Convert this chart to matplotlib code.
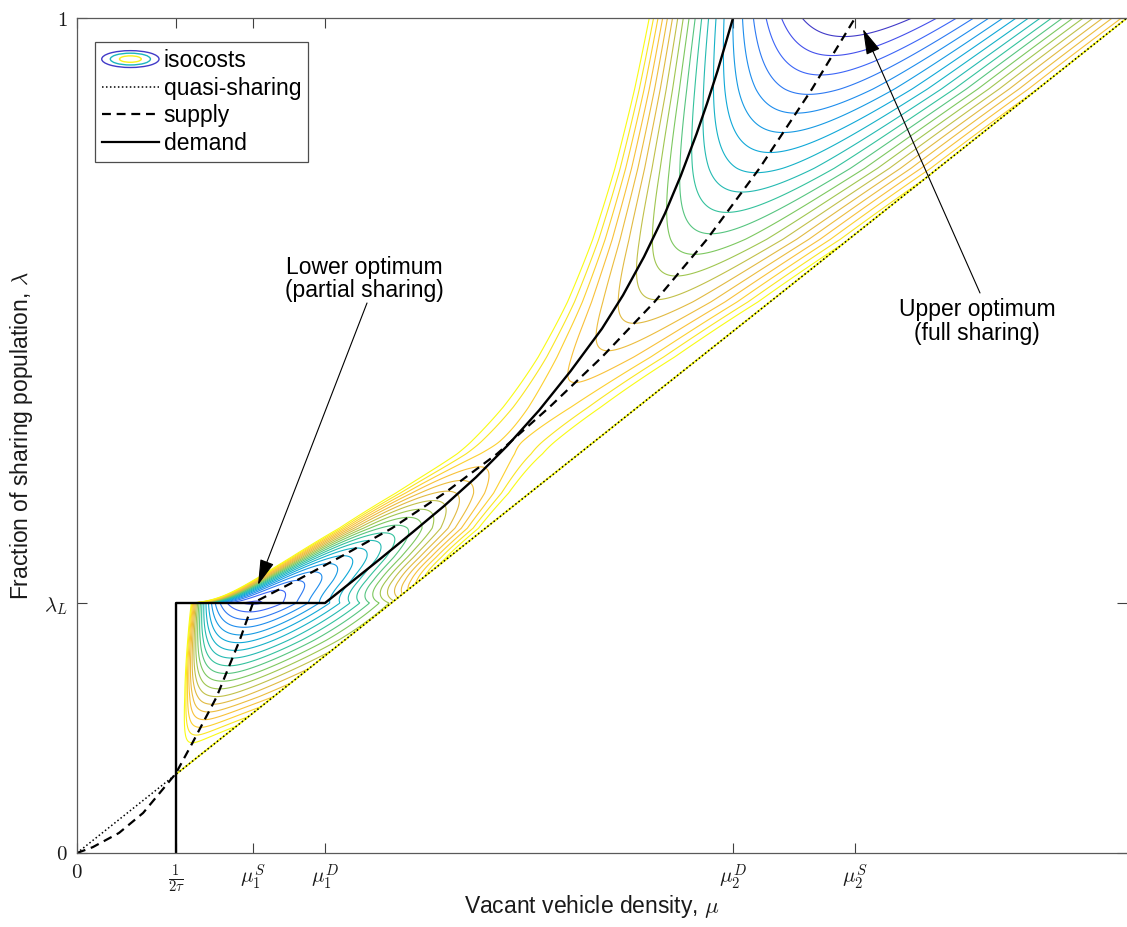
"""
Isocosts of the sharing model with supply / demand curves.
mu (x) is normalised by the largest density shown on the axis.
"""

import numpy as np
import matplotlib.pyplot as plt
from matplotlib.colors import LinearSegmentedColormap
from matplotlib.legend_handler import HandlerBase
from matplotlib.lines import Line2D
from matplotlib.patches import Ellipse

plt.rcParams["font.family"] = ["Liberation Sans", "DejaVu Sans"]
plt.rcParams["mathtext.fontset"] = "cm"

# key values
x0 = 0.0943          # 1/(2 tau)
mu1_S, mu1_D = 0.1676, 0.2362
mu2_D, mu2_S = 0.6248, 0.741
lam_L = 0.2994

xtick_vals = [0, x0, mu1_S, mu1_D, mu2_D, mu2_S]
xtick_labels = ["$0$", r"$\frac{1}{2\tau}$", r"$\mu_1^S$", r"$\mu_1^D$",
                r"$\mu_2^D$", r"$\mu_2^S$"]
ytick_vals = [0, lam_L, 1]
ytick_labels = ["$0$", r"$\lambda_L$", "$1$"]

# supply curve
supply_mu = [0.0, 0.015, 0.040, 0.063, 0.094, 0.110, 0.133, 0.155, 0.1676,
             0.210, 0.250, 0.300, 0.350, 0.400, 0.450, 0.500, 0.550, 0.600,
             0.650, 0.700, 0.741]
supply_lam = [0.0, 0.007, 0.024, 0.048, 0.095, 0.132, 0.187, 0.255, 0.2994,
              0.327, 0.354, 0.389, 0.431, 0.478, 0.534, 0.594, 0.660, 0.735,
              0.820, 0.915, 1.0]

# demand curve (vertical, then flat at lambda_L, then rising branch)
demand_mu = [0.0943, 0.0943, 0.2362, 0.260, 0.290, 0.320, 0.350, 0.380,
             0.410, 0.440, 0.470, 0.500, 0.520, 0.540, 0.560, 0.575, 0.590,
             0.600, 0.610, 0.6175, 0.6248]
demand_lam = [0.0, 0.2994, 0.2994, 0.3232, 0.3535, 0.3845, 0.416, 0.450,
              0.488, 0.530, 0.577, 0.628, 0.668, 0.714, 0.766, 0.811,
              0.861, 0.8975, 0.9365, 0.9685, 1.0]

# quasi-sharing line
quasi_mu = [0.0, 1.0]
quasi_lam = [0.0, 1.0]

# parula-like colours
parula = LinearSegmentedColormap.from_list("parula", [
    (0.00, (0.242, 0.150, 0.660)),
    (0.12, (0.270, 0.350, 0.980)),
    (0.25, (0.120, 0.550, 0.930)),
    (0.37, (0.050, 0.680, 0.830)),
    (0.50, (0.200, 0.760, 0.620)),
    (0.62, (0.550, 0.790, 0.330)),
    (0.75, (0.880, 0.730, 0.260)),
    (0.87, (0.990, 0.760, 0.220)),
    (1.00, (0.976, 0.984, 0.080)),
])


def shape_terms(lf, us, a_L=0.045, a_R=0.07, K=2.3, w1=0.27, w2=0.15,
                k_low=9.0):
    decay = np.where(lf < lam_L, np.exp(k_low * (lf - lam_L)), 1.0)
    al = a_L * decay
    ar = a_R * decay
    dl = np.clip(lf - lam_L, 0, None)
    k_left = us * (1 - a_L) * np.tanh(K * dl / us)
    k_right = us * (1 - a_R) * (1 - np.exp(-dl / w1 - (dl / w2) ** 2))
    return al, ar, k_left, k_right


def g_cost(u, us, al, ar, kl, kr):
    # zero on the supply curve, grows away from it in mu
    left = u < us
    alp = np.where(left, al, ar)
    kap = np.where(left, kl, kr)
    return alp * (np.log(u) - np.log(us)) ** 2 + kap * (u - us) ** 2 / (u * us ** 2)


def cost_field(mu, lam, gap=0.012, c_span=0.13, lam_b=0.132):
    lf = np.linspace(0, 1, 4001)
    us = np.clip(np.interp(lf, supply_lam, supply_mu) - x0, 1e-6, None)
    ud = np.clip(np.interp(lf, demand_lam[2:], demand_mu[2:]) - x0, 1e-6, None)
    terms = shape_terms(lf, us)

    # above the saddle: beta' = -dG/dlam on the demand curve
    i = np.arange(1, len(lf) - 1)
    gp = g_cost(ud[i], us[i + 1], *[q[i + 1] for q in terms])
    gm = g_cost(ud[i], us[i - 1], *[q[i - 1] for q in terms])
    dG = (gp - gm) / (lf[i + 1] - lf[i - 1])
    db = np.concatenate([[-dG[0]], -dG, [-dG[-1]]])

    diff = ud - us
    i_s = np.where((lf > 0.4) & (diff <= 0))[0][0]
    lam_s = lf[i_s]
    tail = np.concatenate([[0], np.cumsum(0.5 * (db[i_s:][1:] + db[i_s:][:-1])
                                          * np.diff(lf[i_s:]))])
    beta = np.zeros_like(lf)
    drop = -tail[-1]
    beta[i_s:] = drop + tail          # beta(1) = 0

    # rising branch between lambda_L and the saddle
    H = drop - gap
    mid = (lf >= lam_L) & (lf < lam_s)
    t = (lf[mid] - lam_L) / (lam_s - lam_L)
    a0 = 0.8
    beta[mid] = gap + H * (a0 * t + (3 - 2 * a0) * t ** 2 + (a0 - 2) * t ** 3)

    low = lf < lam_L
    beta[low] = gap + (c_span - gap) * (lam_L - lf[low]) / (lam_L - lam_b)

    M, L = np.meshgrid(mu, lam)
    U = M - x0
    S = np.interp(lam, lf, us)[:, None]
    T = [np.interp(lam, lf, q)[:, None] for q in terms]
    B = np.interp(lam, lf, beta)[:, None]
    C = g_cost(U, S, *T) + B
    C[(M > L) | (L < 0.1)] = np.nan
    return M, L, C, 0.0, c_span


class Isocosts:
    pass


class HandlerIsocosts(HandlerBase):
    def create_artists(self, legend, orig_handle, xdescent, ydescent,
                       width, height, fontsize, trans):
        cx = 0.5 * width - xdescent
        cy = 0.5 * height - ydescent
        out = []
        for f, v in zip([1.0, 0.7, 0.38], [0.05, 0.42, 0.98]):
            e = Ellipse((cx, cy), width * f, height * 1.05 * f, fill=False,
                        edgecolor=parula(v), lw=1.0, transform=trans)
            out.append(e)
        return out


if __name__ == "__main__":

    mu = np.linspace(x0 + 1e-4, 1, 1500)
    lam = np.linspace(0, 1, 1500)
    M, L, C, cmin, cmax = cost_field(mu, lam)
    levels = np.linspace(cmin, cmax, 21)[1:]

    fig = plt.figure(figsize=(11.27, 9.27), dpi=100)
    ax = fig.add_axes([77 / 1127, 74 / 927, 1050 / 1127, 835 / 927])

    ax.contour(M, L, C, levels=levels, cmap=parula, vmin=cmin, vmax=cmax,
               linewidths=0.8)

    # outer isocost hugging the quasi-sharing line
    ax.plot([x0, 1], [x0, 1], color=parula(1.0), lw=1.3)
    ax.plot(quasi_mu, quasi_lam, color="k", lw=1.1, ls=(0, (1, 1.6)))
    ax.plot(supply_mu, supply_lam, color="k", lw=1.6, ls=(0, (4, 2.6)))
    ax.plot(demand_mu, demand_lam, color="k", lw=1.7)

    ax.annotate("", xy=(0.1724, 0.321), xytext=(0.2762, 0.6587),
                arrowprops=dict(arrowstyle="-|>,head_length=1.6,head_width=0.45",
                                color="k", lw=0.8, mutation_scale=10,
                                shrinkA=0, shrinkB=0))
    ax.text(0.2733, 0.6874, "Lower optimum\n(partial sharing)", ha="center",
            va="center", fontsize=16.5, linespacing=1.05)
    ax.annotate("", xy=(0.7486, 0.9868), xytext=(0.860, 0.6707),
                arrowprops=dict(arrowstyle="-|>,head_length=1.6,head_width=0.45",
                                color="k", lw=0.8, mutation_scale=10,
                                shrinkA=0, shrinkB=0))
    ax.text(0.857, 0.637, "Upper optimum\n(full sharing)", ha="center",
            va="center", fontsize=16.5, linespacing=1.05)

    ax.set_xlim(0, 1)
    ax.set_ylim(0, 1)
    ax.set_xticks(xtick_vals)
    ax.set_xticklabels(xtick_labels, fontsize=15)
    ax.set_yticks(ytick_vals)
    ax.set_yticklabels(ytick_labels, fontsize=15)
    ax.tick_params(direction="in", length=7, width=0.8, top=True, right=True,
                   pad=7, colors="0.25", labelcolor="0.1")
    for side in ["left", "bottom", "top"]:
        ax.spines[side].set_color("0.35")
        ax.spines[side].set_linewidth(0.9)
    ax.spines["right"].set_visible(False)

    ax.set_xlabel(r"Vacant vehicle density, $\mu$", fontsize=16.5, color="0.1")
    ax.xaxis.set_label_coords(0.49, -0.048)
    ax.set_ylabel(r"Fraction of sharing population, $\lambda$", fontsize=16.5,
                  labelpad=6, color="0.1")

    handles = [Isocosts(),
               Line2D([], [], color="k", lw=1.1, ls=(0, (1, 1.6))),
               Line2D([], [], color="k", lw=1.6, ls=(0, (4, 2.6))),
               Line2D([], [], color="k", lw=1.6)]
    leg = ax.legend(handles, ["isocosts", "quasi-sharing", "supply", "demand"],
                    handler_map={Isocosts: HandlerIsocosts()},
                    loc="upper left", bbox_to_anchor=(0.017, 0.971),
                    borderaxespad=0, fontsize=16.5, handlelength=2.5,
                    handletextpad=0.2, labelspacing=0.2, borderpad=0.3,
                    fancybox=False, framealpha=1, edgecolor="0.3")
    leg.get_frame().set_linewidth(0.9)

    fig.savefig("out.png", dpi=100)
